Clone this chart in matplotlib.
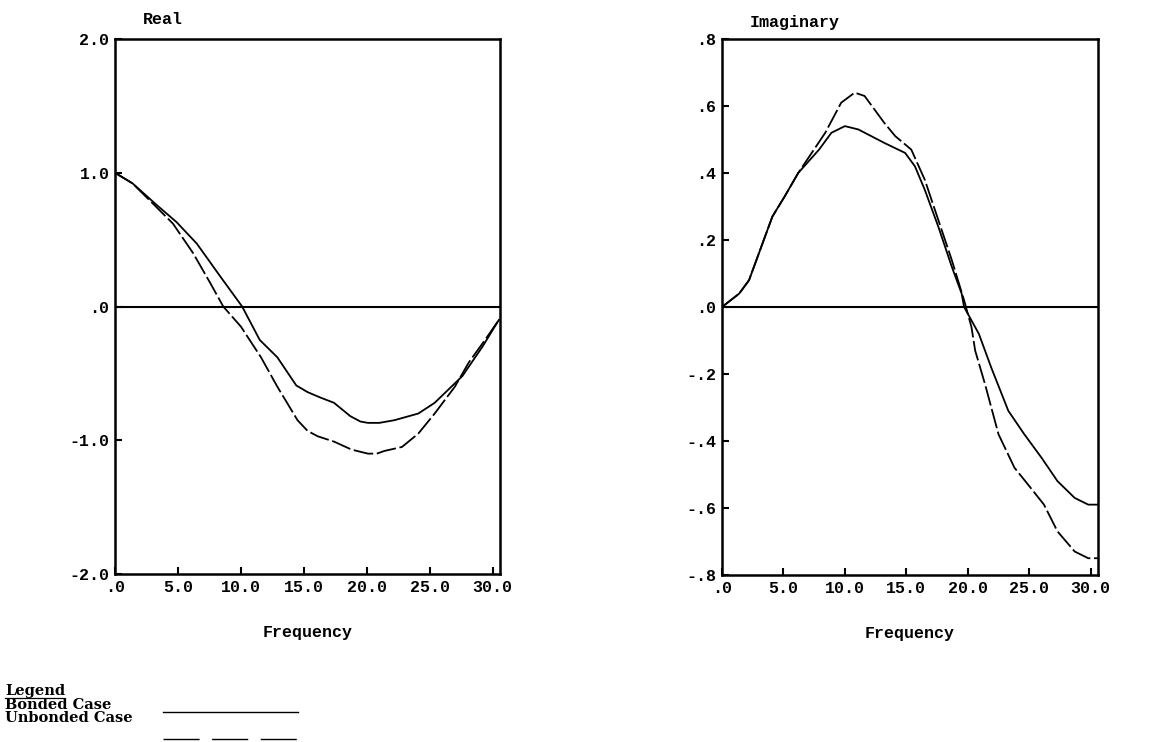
'''
Real and imaginary parts vs frequency, bonded vs unbonded case
'''

import matplotlib.pyplot as plt
from matplotlib.lines import Line2D

# Real part
real_bonded_f = [0.0, 1.4, 3.3, 4.9, 6.5, 8.4, 10.1, 11.5, 12.9, 14.4, 15.3, 16.3, 17.4, 18.7,
                 19.5, 20.1, 21.0, 22.2, 24.1, 25.4, 27.6, 29.2, 30.5]
real_bonded_v = [1.0, 0.92, 0.76, 0.63, 0.47, 0.22, 0.0, -0.25, -0.38, -0.59, -0.64, -0.68,
                 -0.72, -0.82, -0.86, -0.87, -0.87, -0.85, -0.80, -0.72, -0.52, -0.30, -0.10]
real_unbonded_f = [0.0, 1.4, 3.0, 4.6, 6.2, 7.6, 8.6, 10.0, 11.6, 12.9, 14.5, 15.3, 16.1, 17.4,
                   18.8, 20.1, 20.8, 21.4, 22.8, 24.1, 25.4, 27.0, 28.1, 29.4, 30.5]
real_unbonded_v = [1.0, 0.92, 0.77, 0.62, 0.40, 0.17, 0.0, -0.15, -0.38, -0.60, -0.85, -0.93,
                   -0.97, -1.01, -1.07, -1.10, -1.10, -1.08, -1.05, -0.95, -0.80, -0.60, -0.42,
                   -0.25, -0.10]

# Imaginary part
imag_bonded_f = [0.0, 1.4, 2.2, 3.0, 4.1, 5.1, 6.2, 7.9, 8.9, 10.0, 11.1, 13.2, 14.9, 15.7,
                 16.5, 17.6, 18.7, 19.5, 19.7, 20.9, 21.9, 23.3, 24.6, 26.0, 27.3, 28.7,
                 29.8, 30.6]
imag_bonded_v = [0.0, 0.04, 0.08, 0.16, 0.27, 0.33, 0.40, 0.47, 0.52, 0.54, 0.53, 0.49,
                 0.46, 0.42, 0.35, 0.24, 0.12, 0.04, 0.0, -0.08, -0.18, -0.31, -0.38, -0.45,
                 -0.52, -0.57, -0.59, -0.59]
imag_unbonded_f = [0.0, 1.4, 2.2, 3.0, 4.1, 5.1, 6.2, 8.4, 9.7, 10.8, 11.6, 13.2, 14.1, 15.4,
                   16.5, 17.6, 18.7, 19.7, 20.3, 20.6, 21.4, 22.5, 23.8, 24.9, 26.2, 27.3,
                   28.7, 29.8, 30.6]
imag_unbonded_v = [0.0, 0.04, 0.08, 0.16, 0.27, 0.33, 0.40, 0.52, 0.61, 0.64, 0.63, 0.55,
                   0.51, 0.47, 0.38, 0.26, 0.14, 0.02, -0.06, -0.13, -0.23, -0.38, -0.48,
                   -0.53, -0.59, -0.67, -0.73, -0.75, -0.75]

x_ticks = [0, 5, 10, 15, 20, 25, 30]
x_labels = ['.0', '5.0', '10.0', '15.0', '20.0', '25.0', '30.0']
real_ticks = [-2, -1, 0, 1, 2]
real_labels = ['-2.0', '-1.0', '.0', '1.0', '2.0']
imag_ticks = [-0.8, -0.6, -0.4, -0.2, 0.0, 0.2, 0.4, 0.6, 0.8]
imag_labels = ['-.8', '-.6', '-.4', '-.2', '.0', '.2', '.4', '.6', '.8']

MONO = 'Liberation Mono'
SERIF = 'DejaVu Serif'


def style_axes(ax, yticks, ylabels, ylim):
	ax.set_xlim(0, 30.6)
	ax.set_ylim(*ylim)
	ax.set_xticks(x_ticks)
	ax.set_xticklabels(x_labels, family=MONO, weight='bold', fontsize=12)
	ax.set_yticks(yticks)
	ax.set_yticklabels(ylabels, family=MONO, weight='bold', fontsize=12)
	ax.tick_params(direction='in', length=5, width=1.5, pad=4)
	for s in ax.spines.values():
		s.set_linewidth(1.8)
	ax.axhline(0, color='black', lw=1.5)
	ax.set_xlabel('Frequency', family=MONO, weight='bold', fontsize=12, labelpad=22)


def draw(ax, fb, vb, fu, vu):
	ax.plot(fb, vb, color='black', lw=1.3)
	ax.plot(fu, vu, color='black', lw=1.3, dashes=(11, 2))


fig = plt.figure(figsize=(11.55, 7.42), dpi=100)
ax1 = fig.add_axes([0.0996, 0.2264, 0.3334, 0.721])
ax2 = fig.add_axes([0.6251, 0.2251, 0.3256, 0.7223])

draw(ax1, real_bonded_f, real_bonded_v, real_unbonded_f, real_unbonded_v)
style_axes(ax1, real_ticks, real_labels, (-2, 2))
draw(ax2, imag_bonded_f, imag_bonded_v, imag_unbonded_f, imag_unbonded_v)
style_axes(ax2, imag_ticks, imag_labels, (-0.8, 0.8))

fig.text(143 / 1155, 1 - 20 / 742, 'Real', family=MONO, weight='bold', fontsize=12,
	ha='left', va='center')
fig.text(750 / 1155, 1 - 22 / 742, 'Imaginary', family=MONO, weight='bold', fontsize=12,
	ha='left', va='center')

# legend block at the bottom
fig.text(5 / 1155, 1 - 695 / 742, 'Legend', family=SERIF, weight='bold', fontsize=10.5,
	ha='left', va='baseline')
fig.add_artist(Line2D([5 / 1155, 64 / 1155], [1 - 698 / 742] * 2, color='black', lw=0.9))
fig.text(5 / 1155, 1 - 709 / 742, 'Bonded Case', family=SERIF, weight='bold', fontsize=10.5,
	ha='left', va='baseline')
fig.text(5 / 1155, 1 - 722 / 742, 'Unbonded Case', family=SERIF, weight='bold', fontsize=10.5,
	ha='left', va='baseline')
fig.add_artist(Line2D([163 / 1155, 298 / 1155], [1 - 712 / 742] * 2, color='black', lw=1.0))
fig.add_artist(Line2D([163 / 1155, 298 / 1155], [1 - 739 / 742] * 2, color='black', lw=1.0,
	dashes=(26, 9)))

fig.savefig('out.png', dpi=100)
